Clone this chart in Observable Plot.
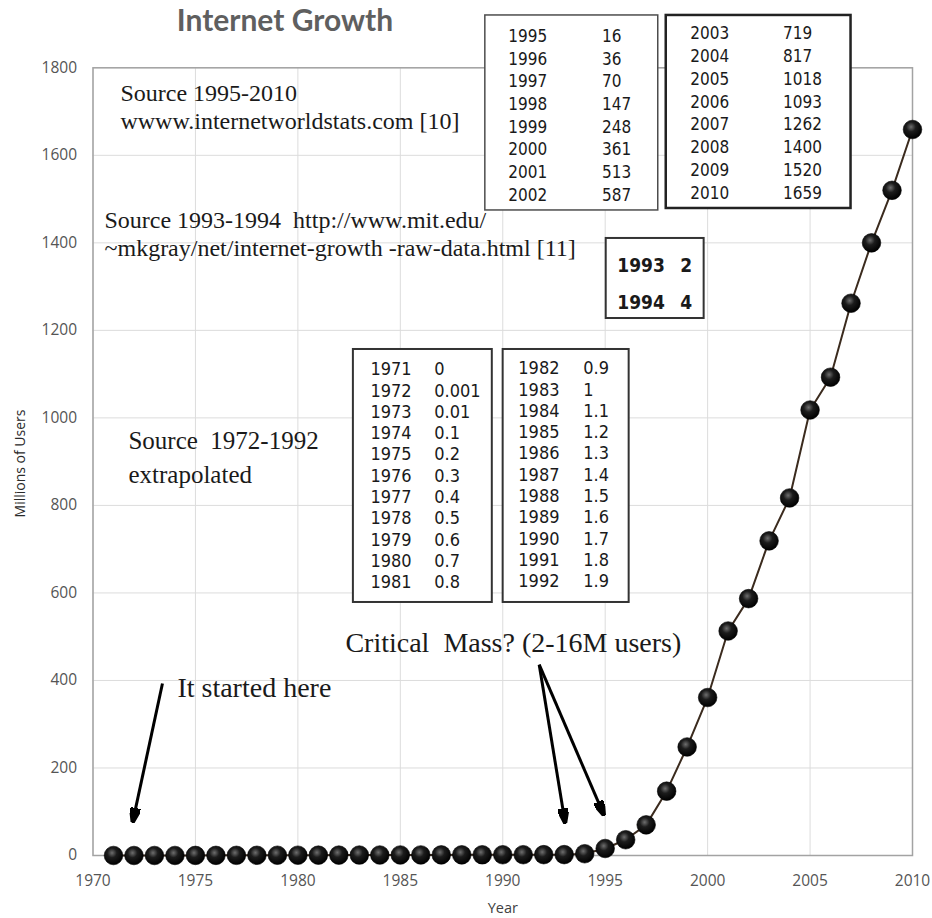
<!DOCTYPE html>
<html>
<head>
<meta charset="utf-8">
<script src="https://cdn.jsdelivr.net/npm/d3@7"></script>
<script src="https://cdn.jsdelivr.net/npm/@observablehq/plot@0.6"></script>
<style>
  html, body { margin: 0; padding: 0; background: #fff; }
  #chart svg { display: block; }
</style>
</head>
<body>
<div id="chart"></div>
<script>
// ---------------- data ----------------
const years = [1971,1972,1973,1974,1975,1976,1977,1978,1979,1980,1981,1982,1983,1984,1985,1986,1987,1988,1989,1990,1991,1992,1993,1994,1995,1996,1997,1998,1999,2000,2001,2002,2003,2004,2005,2006,2007,2008,2009,2010];
const users = [0,0.001,0.01,0.1,0.2,0.3,0.4,0.5,0.6,0.7,0.8,0.9,1,1.1,1.2,1.3,1.4,1.5,1.6,1.7,1.8,1.9,2,4,16,36,70,147,248,361,513,587,719,817,1018,1093,1262,1400,1520,1659];
const xTicks = [1970,1975,1980,1985,1990,1995,2000,2005,2010];
const yTicks = [0,200,400,600,800,1000,1200,1400,1600,1800];
const titleText = "Internet Growth";
const xLabel = "Year";
const yLabel = "Millions of Users";
const noteTexts = [
  "Source 1995-2010",
  "wwww.internetworldstats.com [10]",
  "Source 1993-1994\u00a0 http://www.mit.edu/",
  "~mkgray/net/internet-growth -raw-data.html [11]",
  "Source\u00a0 1972-1992",
  "extrapolated",
  "Critical\u00a0 Mass? (2-16M users)",
  "It started here"
];
// table groups (first year, last year)
const tableRanges = [[1995,2002],[2003,2010],[1993,1994],[1971,1981],[1982,1992]];

const data = years.map((year, i) => ({year, users: users[i]}));

// ---------------- layout (annotation anchors in data units) ----------------
const noteLayout = [
  {x: 1971.34, y: 1723, size: 24},
  {x: 1971.34, y: 1661, size: 24},
  {x: 1970.56, y: 1433, size: 24},
  {x: 1970.56, y: 1369, size: 24},
  {x: 1971.73, y: 928, size: 25},
  {x: 1971.73, y: 852, size: 25},
  {x: 1982.32, y: 464, size: 28},
  {x: 1974.12, y: 363, size: 28}
];
const arrowLayout = [
  {x1: 1973.39, y1: 393, x2: 1971.93, y2: 75},
  {x1: 1991.78, y1: 436, x2: 1993.05, y2: 73},
  {x1: 1991.78, y1: 436, x2: 1994.95, y2: 91}
];
const narrow = "'Liberation Sans Narrow', 'DejaVu Sans Condensed', 'Open Sans', sans-serif";
const tableLayout = [
  {x1: 1989.15, x2: 1997.59, y1: 1474, y2: 1919.6, colYear: 1990.27, colVal: 1994.85, row0: 1871.6, step: 51.87, size: 17, weight: "normal", sw: 1.5, stroke: "#4d4d4d"},
  {x1: 1997.98, x2: 2007.0, y1: 1478.5, y2: 1919.6, colYear: 1999.15, colVal: 2003.68, row0: 1878.4, step: 52.3, size: 17, weight: "normal", sw: 2.5, stroke: "#222"},
  {x1: 1995.05, x2: 1999.83, y1: 1227.1, y2: 1410.0, colYear: 1995.59, colVal: 1998.66, row0: 1348.3, step: 84.6, size: 19, weight: "bold", sw: 2, stroke: "#333"},
  {x1: 1982.71, x2: 1989.49, y1: 578.2, y2: 1156.3, colYear: 1983.54, colVal: 1986.66, row0: 1110.6, step: 48.67, size: 18, weight: "normal", sw: 2, stroke: "#333"},
  {x1: 1990.02, x2: 1996.17, y1: 578.2, y2: 1156.3, colYear: 1990.76, colVal: 1993.93, row0: 1112.9, step: 48.67, size: 18, weight: "normal", sw: 2, stroke: "#333"}
];

// ---------------- marks ----------------
function filledArrow(color) {
  const m = d3.create("svg:marker")
    .attr("viewBox", "-12 -4 12 8")
    .attr("markerWidth", 5)
    .attr("markerHeight", 3.4)
    .attr("refX", 0)
    .attr("refY", 0)
    .attr("orient", "auto");
  m.append("path").attr("d", "M-12,-4L0,0L-12,4Z").attr("fill", color);
  return m.node();
}

const serif = "'Liberation Serif', 'DejaVu Serif', serif";
const sans = "'Open Sans', 'Noto Sans', sans-serif";

const tableMarks = tableRanges.flatMap(([a, b], t) => {
  const L = tableLayout[t];
  const rows = data.filter(d => d.year >= a && d.year <= b);
  return [
    Plot.rect([L], {x1: "x1", x2: "x2", y1: "y1", y2: "y2", fill: "#fff", stroke: L.stroke, strokeWidth: L.sw}),
    Plot.text(rows, {x: () => L.colYear, y: (d, i) => L.row0 - i * L.step, text: d => String(d.year),
      textAnchor: "start", lineAnchor: "middle", fontFamily: narrow, fontSize: L.size, fontWeight: L.weight, fill: "#1a1a1a"}),
    Plot.text(rows, {x: () => L.colVal, y: (d, i) => L.row0 - i * L.step, text: d => String(d.users),
      textAnchor: "start", lineAnchor: "middle", fontFamily: narrow, fontSize: L.size, fontWeight: L.weight, fill: "#1a1a1a"})
  ];
});

const notes = noteTexts.map((text, i) => ({text, ...noteLayout[i]}));

const chart = Plot.plot({
  width: 932,
  height: 918,
  marginLeft: 92.5,
  marginRight: 20,
  marginTop: 67.3,
  marginBottom: 63,
  x: {domain: [1970, 2010]},
  y: {domain: [0, 1800]},
  style: {background: "#fff"},
  marks: [
    Plot.gridX(xTicks, {stroke: "#dcdcdc", strokeOpacity: 1, strokeWidth: 1}),
    Plot.gridY(yTicks, {stroke: "#dcdcdc", strokeOpacity: 1, strokeWidth: 1}),
    Plot.frame({stroke: "#a3a3a3", strokeWidth: 1.5}),
    Plot.axisY(yTicks, {tickSize: 0, tickPadding: 16, tickFormat: d => String(d), label: null,
      fontSize: 15.5, fontFamily: sans, fill: "#555"}),
    Plot.axisX(xTicks, {tickSize: 0, tickPadding: 19, tickFormat: d => String(d), label: null,
      fontSize: 15.5, fontFamily: sans, fill: "#555"}),
    Plot.text([titleText], {x: () => 1979.37, y: () => 1885, text: d => d, textAnchor: "middle", lineAnchor: "bottom",
      fontFamily: "Lato, 'Open Sans', sans-serif", fontWeight: "bold", fontSize: 30, fill: "#5f5f5f"}),
    Plot.text([yLabel], {x: () => 1966.46, y: () => 895.8, text: d => d, rotate: -90, textAnchor: "middle", lineAnchor: "middle",
      fontFamily: sans, fontSize: 14, fill: "#2a2a2a"}),
    Plot.text([xLabel], {x: () => 1990, y: () => -132.5, text: d => d, textAnchor: "middle", lineAnchor: "bottom",
      fontFamily: sans, fontSize: 14.5, fill: "#404040"}),
    Plot.text(notes, {x: "x", y: "y", text: "text", fontSize: "size", textAnchor: "start", lineAnchor: "bottom",
      fontFamily: serif, fill: "#1a1a1a"}),
    ...tableMarks,
    Plot.link(arrowLayout, {x1: "x1", y1: "y1", x2: "x2", y2: "y2", stroke: "#000", strokeWidth: 3, markerEnd: filledArrow}),
    Plot.line(data, {x: "year", y: "users", stroke: "#3b2b1e", strokeWidth: 2}),
    Plot.dot(data, {x: "year", y: "users", r: 9.3, fill: "url(#ball)", stroke: "#000", strokeWidth: 0.6})
  ]
});

d3.select(chart).insert("defs", ":first-child").html(
  '<radialGradient id="ball" cx="0.42" cy="0.36" r="0.64">' +
  '<stop offset="0" stop-color="#6e6e6e"/>' +
  '<stop offset="0.4" stop-color="#1c1c1c"/>' +
  '<stop offset="1" stop-color="#000"/>' +
  '</radialGradient>'
);

document.getElementById("chart").appendChild(chart);
</script>
</body>
</html>
